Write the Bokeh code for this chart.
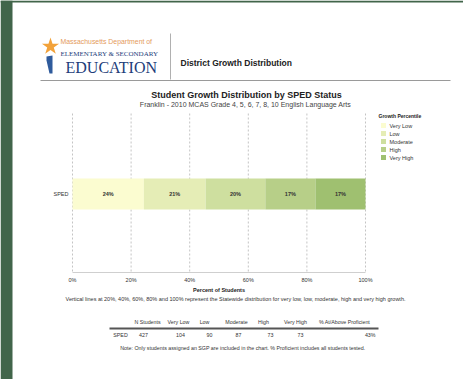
from bokeh.plotting import figure
from bokeh.models import Range1d
from bokeh.core.properties import value
from bokeh.embed import file_html
from bokeh.resources import INLINE

# ---------------- data ----------------
group = ["SPED"]
growth_levels = ["Very Low", "Low", "Moderate", "High", "Very High"]
growth_counts = [104, 90, 87, 73, 73]
n_students = [427]
pct_proficient = ["43%"]
tick_values = [0, 20, 40, 60, 80, 100]
tick_labels = ["0%", "20%", "40%", "60%", "80%", "100%"]
colors = ["#fbfcd0", "#e5edb6", "#cedf9f", "#b7cf88", "#9fc070"]
table_headers = ["N Students", "Very Low", "Low", "Moderate", "High", "Very High", "% At/Above Proficient"]

# ---------------- layout ----------------
W, H = 463, 379
X0, X1 = 72, 365          # pixel span of 0 .. 100 %
sx = (X1 - X0) / 100.0
FONT = value("Liberation Sans")
SERIF = value("Liberation Serif")

p = figure(width=W, height=H, output_backend="svg", toolbar_location=None,
           x_range=Range1d(-X0 / sx, (W - X0) / sx), y_range=Range1d(H, 0),
           min_border=0, x_axis_location=None, y_axis_location=None)
p.extra_x_ranges = {"px": Range1d(0, W)}
p.title.visible = False
p.grid.visible = False
p.outline_line_color = None
p.background_fill_color = "white"
p.border_fill_color = "white"

def txt(x, y, s, size, color="#222222", bold=False, align="left", font=FONT, rng="px"):
    p.text(x=[x], y=[y], text=[s], text_font=font, text_font_size=size,
           text_color=color, text_font_style="bold" if bold else "normal",
           text_align=align, text_baseline="middle", x_range_name=rng)

# dark green frame
p.quad(left=[0, 0], right=[12, W], top=[0, 0], bottom=[H, 2],
       fill_color="#41654a", line_color=None, x_range_name="px")

# ---------------- header / logo ----------------
p.scatter(x=[50], y=[46], marker="star", size=18, fill_color="#f2a23a",
          line_color=None, x_range_name="px")
p.patch(x=[46, 52, 52, 49, 46], y=[56, 55, 73, 73, 60], fill_color="#2f5b9c",
        line_color=None, x_range_name="px")
txt(60, 41, "Massachusetts Department of", "6.9px", color="#e49a5c")
txt(60, 53, "ELEMENTARY & SECONDARY", "7px", color="#1d3d7a", font=SERIF)
txt(65, 67, "EDUCATION", "16px", color="#1d3d7a", font=SERIF)
p.segment(x0=[170], y0=[33], x1=[170], y1=[79], line_color="#b0b0b0", line_width=1, x_range_name="px")
p.segment(x0=[40], y0=[80], x1=[450], y1=[80], line_color="#9a9a9a", line_width=1, x_range_name="px")
txt(180, 62, "District Growth Distribution", "8.5px", bold=True)

txt(246, 94, "Student Growth Distribution by SPED Status", "9px", bold=True, align="center")
txt(245, 104, "Franklin - 2010 MCAS Grade 4, 5, 6, 7, 8, 10 English Language Arts", "7px",
    color="#444444", align="center")

# ---------------- chart ----------------
total = sum(growth_counts)
pcts = [c * 100.0 / total for c in growth_counts]
lefts, rights = [], []
acc = 0.0
for v in pcts:
    lefts.append(acc)
    acc += v
    rights.append(acc)
mids = [(l + r) / 2 for l, r in zip(lefts, rights)]
labels = ["%d%%" % round(v) for v in pcts]

p.segment(x0=tick_values, y0=[113] * 6, x1=tick_values, y1=[272] * 6,
          line_color="#c4c4c4", line_dash="2 2", line_width=1)
p.segment(x0=[tick_values[0]], y0=[272], x1=[tick_values[-1]], y1=[272],
          line_color="#cfcfcf", line_width=1)

bar_y = 193.5
p.hbar(y=[bar_y] * 5, left=lefts, right=rights, height=31, fill_color=colors, line_color=None)
p.text(x=mids, y=[bar_y] * 5, text=labels, text_font=FONT, text_font_size="5.5px",
       text_font_style="bold", text_color="#333333", text_align="center", text_baseline="middle")
txt(68, bar_y, group[0], "5.5px", color="#333333", align="right")

p.text(x=tick_values, y=[279] * 6, text=tick_labels, text_font=FONT, text_font_size="5.5px",
       text_color="#333333", text_align="center", text_baseline="middle")
txt(218.5, 289, "Percent of Students", "5.5px", bold=True, align="center")
txt(235, 298, "Vertical lines at 20%, 40%, 60%, 80% and 100% represent the Statewide distribution "
    "for very low, low, moderate, high and very high growth.", "5.5px", color="#333333", align="center")

# legend
txt(378, 115, "Growth Percentile", "5px", bold=True)
leg_y = [125 + 8 * i for i in range(5)]
p.rect(x=[383] * 5, y=leg_y, width=5, height=5, fill_color=colors, line_color=None, x_range_name="px")
p.text(x=[389] * 5, y=leg_y, text=growth_levels, text_font=FONT, text_font_size="5.5px",
       text_color="#333333", text_align="left", text_baseline="middle", x_range_name="px")

# ---------------- table ----------------
hdr_x = [147, 178, 204, 236, 263, 295, 344]
p.text(x=hdr_x, y=[321] * 7, text=table_headers, text_font=FONT, text_font_size="5.3px",
       text_color="#333333", text_align="center", text_baseline="middle", x_range_name="px")
p.segment(x0=[109], y0=[328], x1=[378], y1=[328], line_color="#555555", line_width=2, x_range_name="px")
row_vals = [group[0], str(n_students[0])] + [str(c) for c in growth_counts]
row_x = [120, 143, 180, 209, 238, 270, 300]
p.text(x=row_x, y=[334] * 7, text=row_vals, text_font=FONT, text_font_size="5.3px",
       text_color="#333333", text_align="center", text_baseline="middle", x_range_name="px")
txt(375, 334, pct_proficient[0], "5.3px", color="#333333", align="right")
txt(243, 347, "Note: Only students assigned an SGP are included in the chart.  "
    "% Proficient includes all students tested.", "5.3px", color="#333333", align="center")

open("out.html", "w").write(file_html(p, INLINE))
